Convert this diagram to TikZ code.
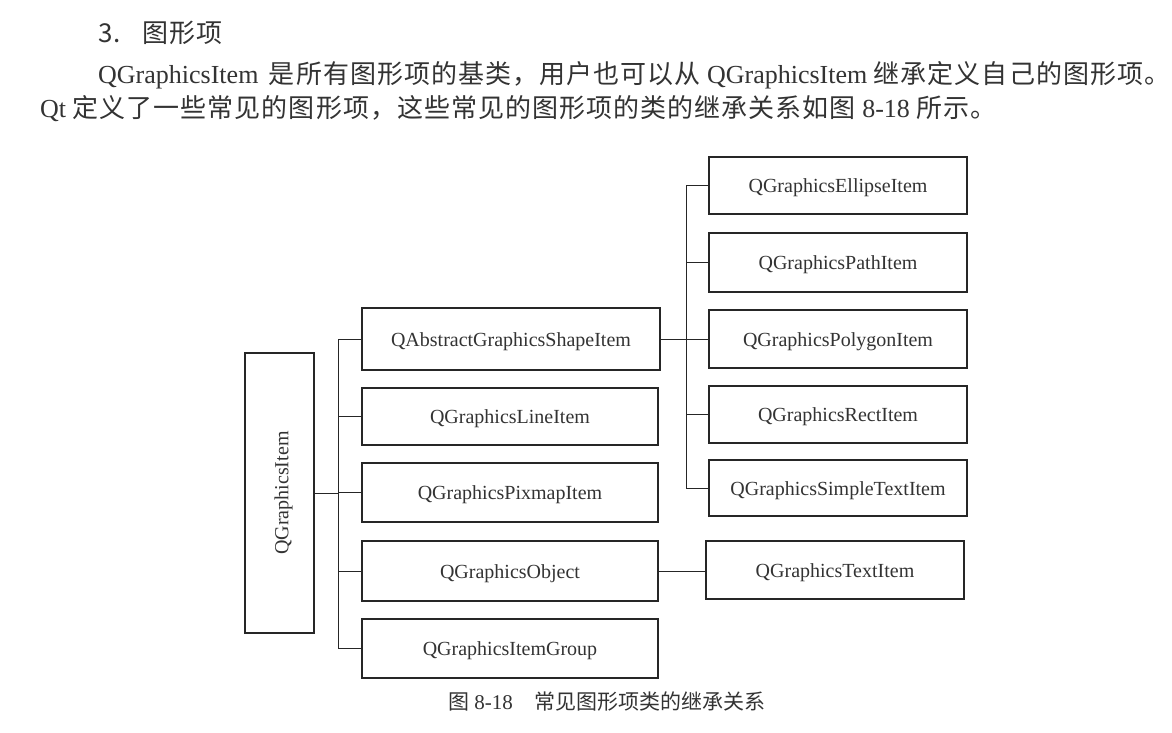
\documentclass[tikz,border=0pt]{standalone}
\usepackage{fontspec}
\setmainfont{Liberation Serif}
\newfontfamily\cjk[LetterSpace=4]{Noto Sans CJK SC}
\newfontfamily\cjkcap{Noto Sans CJK SC}
\definecolor{ink}{HTML}{333333}
\definecolor{rule}{HTML}{262626}

\begin{document}
\begin{tikzpicture}[x=1pt,y=-1pt,
  cls/.style={draw=rule, line width=1.8pt, text=ink, inner sep=0pt,
    font=\fontsize{20}{24}\selectfont, anchor=center},
  boxed/.style={cls, text height=14pt, text depth=0pt},
  col2/.style={boxed, minimum width=296pt, minimum height=58pt},
  col3/.style={boxed, minimum width=258pt, minimum height=57pt},
  link/.style={draw=rule, line width=1pt},
  prose/.style={text=ink, inner sep=0pt, anchor=base west,
    font=\fontsize{26}{30}\selectfont},
]
% page
\fill[white] (0,0) rectangle (1172,732);
\useasboundingbox (0,0) rectangle (1172,732);

% heading and paragraph
\node[prose] (title) at (98,42) {{\cjk 3.}\hspace{22pt}{\cjk 图形项}};
\node[prose] (para1) at (98,83) {QGraphicsItem\hspace{4pt} {\cjk 是所有图形项的基类，用户也可以从} QGraphicsItem {\cjk 继承定义自己的图形项。}};
\node[prose] (para2) at (40,117) {Qt {\cjk 定义了一些常见的图形项，这些常见的图形项的类的继承关系如图} 8-18 {\cjk 所示。}};

% root class
\node[cls, minimum width=69pt, minimum height=280pt] (root) at (279.5,493)
  {\rotatebox{90}{QGraphicsItem\rule{0pt}{22pt}}};

% direct subclasses
\node[col2, minimum width=298pt, minimum height=62pt] (abs) at (511,339) {QAbstractGraphicsShapeItem};
\node[col2, minimum height=57pt] (line) at (510,416.5) {QGraphicsLineItem};
\node[col2, minimum height=59pt] (pix)  at (510,492.5) {QGraphicsPixmapItem};
\node[col2, minimum height=60pt] (obj)  at (510,571)   {QGraphicsObject};
\node[col2, minimum height=59pt] (grp)  at (510,648.5) {QGraphicsItemGroup};

% shape items
\node[col3] (ell)    at (838,185.5) {QGraphicsEllipseItem};
\node[col3, minimum height=59pt] (path)   at (838,262.5) {QGraphicsPathItem};
\node[col3, minimum height=58pt] (poly)   at (838,339)   {QGraphicsPolygonItem};
\node[col3] (rect)   at (838,414.5) {QGraphicsRectItem};
\node[col3, minimum height=56pt] (simple) at (838,488)   {QGraphicsSimpleTextItem};

% object items
\node[col3, minimum height=58pt] (txtitem) at (835,570) {QGraphicsTextItem};

% bus lines
\coordinate (b1) at (338,0);
\coordinate (b2) at (686,0);

\draw[link] (root.east) -- (root.east -| b1);
\draw[link] (abs.west) -- (abs.west -| b1) -- (grp.west -| b1) -- (grp.west);
\draw[link] (line.west) -- (line.west -| b1);
\draw[link] (pix.west) -- (pix.west -| b1);
\draw[link] (obj.west) -- (obj.west -| b1);

\draw[link] (abs.east) -- (abs.east -| b2);
\draw[link] (ell.west) -- (ell.west -| b2) -- (simple.west -| b2) -- (simple.west);
\draw[link] (path.west) -- (path.west -| b2);
\draw[link] (poly.west) -- (poly.west -| b2);
\draw[link] (rect.west) -- (rect.west -| b2);

\draw[link] (obj.east) -- (obj.east -| txtitem.west);

% caption
\node[text=ink, inner sep=0pt, anchor=base west, font=\fontsize{21}{25}\selectfont]
  (caption) at (448,709) {{\cjkcap 图} 8-18\hspace{22pt}{\cjkcap 常见图形项类的继承关系}};
\end{tikzpicture}
\end{document}
